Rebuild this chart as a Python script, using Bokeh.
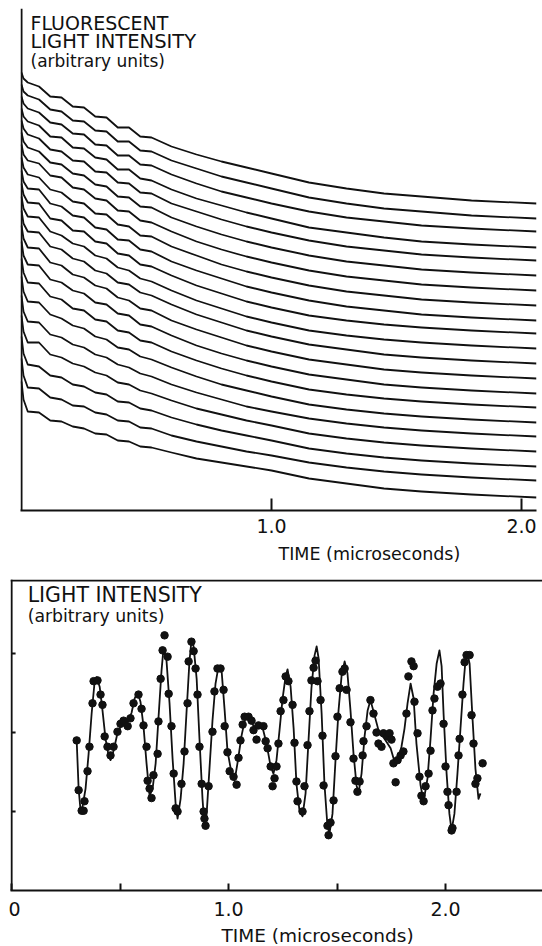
from bokeh.plotting import figure
from bokeh.models import Span, Label, Title, FixedTicker, Range1d
from bokeh.embed import file_html
from bokeh.resources import INLINE

FONT = "DejaVu Sans"
INK = "#111111"

# ---------------- Upper panel: fluorescent decay curves ----------------
decay_time = [0.0, 0.008, 0.025, 0.07, 0.115, 0.16, 0.205, 0.25, 0.295, 0.34, 0.385,
              0.43, 0.475, 0.52, 0.6, 0.7, 0.8, 0.9, 1.0, 1.15, 1.3, 1.45, 1.6, 1.8, 2.06]

decay_01 = [438, 432, 428, 424, 414, 413, 404, 403, 394, 393, 383, 383, 374, 373, 364, 356, 349, 343, 337, 328, 322, 317, 314, 310, 307]
decay_02 = [426, 419, 415, 411, 401, 399, 390, 389, 380, 379, 369, 369, 360, 359, 350, 342, 334, 328, 322, 313, 307, 302, 299, 295, 292]
decay_03 = [414, 407, 402, 398, 388, 386, 377, 376, 366, 365, 355, 355, 346, 345, 336, 327, 319, 313, 307, 299, 293, 289, 285, 282, 279]
decay_04 = [402, 394, 389, 385, 374, 373, 363, 362, 353, 351, 341, 341, 332, 330, 321, 312, 305, 298, 292, 283, 278, 273, 269, 266, 263]
decay_05 = [390, 382, 376, 372, 361, 359, 350, 349, 339, 338, 328, 327, 318, 317, 307, 299, 291, 284, 278, 270, 264, 260, 256, 253, 250]
decay_06 = [378, 369, 363, 359, 348, 346, 337, 335, 326, 324, 314, 313, 304, 303, 293, 284, 276, 269, 263, 255, 249, 245, 241, 238, 235]
decay_07 = [366, 356, 350, 347, 335, 333, 323, 321, 312, 310, 300, 299, 290, 288, 279, 269, 261, 254, 248, 240, 234, 230, 226, 223, 220]
decay_08 = [353, 343, 336, 333, 321, 318, 309, 307, 297, 296, 286, 284, 275, 274, 264, 255, 246, 239, 233, 225, 219, 215, 211, 208, 205]
decay_09 = [340, 329, 322, 321, 307, 304, 295, 293, 283, 281, 271, 270, 261, 259, 249, 240, 232, 224, 218, 210, 204, 200, 196, 193, 190]
decay_10 = [327, 316, 308, 307, 292, 290, 280, 279, 269, 267, 257, 255, 246, 244, 235, 225, 217, 209, 203, 195, 190, 186, 183, 180, 177]
decay_11 = [314, 302, 294, 293, 279, 275, 267, 264, 255, 252, 243, 240, 232, 229, 220, 210, 202, 194, 188, 180, 175, 171, 168, 165, 162]
decay_12 = [300, 287, 279, 278, 264, 261, 252, 249, 240, 237, 228, 226, 218, 215, 206, 196, 188, 180, 174, 166, 161, 156, 153, 150, 147]
decay_13 = [285, 272, 263, 262, 248, 245, 236, 233, 225, 222, 213, 210, 202, 200, 190, 181, 173, 165, 159, 151, 146, 141, 138, 135, 132]
decay_14 = [269, 255, 246, 245, 231, 228, 220, 217, 208, 206, 197, 195, 186, 184, 175, 165, 157, 150, 144, 136, 131, 126, 123, 120, 117]
decay_15 = [252, 238, 228, 227, 214, 211, 202, 200, 191, 189, 180, 178, 170, 168, 159, 150, 142, 135, 129, 121, 116, 112, 109, 106, 103]
decay_16 = [234, 219, 209, 208, 196, 192, 185, 182, 174, 171, 163, 161, 154, 151, 143, 134, 126, 120, 114, 106, 101, 97, 94, 91, 88]
decay_17 = [215, 199, 189, 188, 176, 173, 166, 163, 156, 153, 146, 143, 137, 134, 126, 118, 111, 104, 99, 92, 87, 83, 80, 77, 74]
decay_18 = [195, 179, 168, 168, 156, 153, 147, 144, 138, 135, 128, 126, 120, 117, 110, 102, 96, 90, 85, 77, 72, 68, 65, 62, 59]
decay_19 = [174, 157, 146, 144, 135, 133, 126, 124, 118, 116, 109, 108, 102, 100, 93, 86, 80, 75, 70, 62, 57, 53, 50, 47, 44]
decay_20 = [152, 135, 123, 122, 113, 111, 105, 104, 98, 96, 90, 89, 83, 82, 75, 69, 64, 59, 55, 48, 43, 39, 36, 33, 30]
decay_21 = [129, 111, 99, 98, 90, 89, 84, 82, 77, 76, 70, 69, 64, 63, 58, 52, 48, 44, 40, 32, 27, 22, 19, 16, 13]

decay_curves = [decay_01, decay_02, decay_03, decay_04, decay_05, decay_06, decay_07,
                decay_08, decay_09, decay_10, decay_11, decay_12, decay_13, decay_14,
                decay_15, decay_16, decay_17, decay_18, decay_19, decay_20, decay_21]

top_ticks = [1, 2]
top_tick_labels = {1: "1.0", 2: "2.0"}

# ---------------- Lower panel: quantum beats ----------------
beat_dot_t = [
    0.300, 0.309, 0.323, 0.332, 0.336, 0.350, 0.359, 0.373, 0.378, 0.396,
    0.410, 0.419, 0.429, 0.442, 0.456, 0.470, 0.488, 0.502, 0.516, 0.535,
    0.548, 0.562, 0.585, 0.599, 0.608, 0.622, 0.627, 0.636, 0.645, 0.654,
    0.673, 0.677, 0.687, 0.696, 0.705, 0.719, 0.724, 0.737, 0.747, 0.756,
    0.765, 0.783, 0.797, 0.811, 0.816, 0.829, 0.839, 0.848, 0.857, 0.866,
    0.876, 0.885, 0.889, 0.894, 0.908, 0.926, 0.935, 0.949, 0.963, 0.977,
    0.982, 0.995, 1.005, 1.023, 1.037, 1.046, 1.055, 1.065, 1.074, 1.092,
    1.106, 1.115, 1.129, 1.138, 1.161, 1.171, 1.180, 1.194, 1.203, 1.212,
    1.221, 1.230, 1.240, 1.253, 1.263, 1.276, 1.295, 1.304, 1.313, 1.318,
    1.341, 1.350, 1.364, 1.373, 1.382, 1.392, 1.401, 1.410, 1.424, 1.433,
    1.438, 1.456, 1.461, 1.470, 1.484, 1.493, 1.502, 1.512, 1.525, 1.535,
    1.544, 1.562, 1.576, 1.585, 1.594, 1.604, 1.618, 1.622, 1.636, 1.654,
    1.668, 1.682, 1.691, 1.705, 1.714, 1.733, 1.742, 1.751, 1.760, 1.770,
    1.779, 1.793, 1.806, 1.820, 1.829, 1.843, 1.853, 1.857, 1.871, 1.880,
    1.889, 1.899, 1.908, 1.922, 1.931, 1.940, 1.949, 1.963, 1.977, 1.991,
    2.000, 2.009, 2.014, 2.028, 2.032, 2.051, 2.060, 2.065, 2.078, 2.088,
    2.097, 2.111, 2.120, 2.129, 2.138, 2.147, 2.171]
beat_dot_y = [
    1.90, 1.27, 1.01, 1.01, 1.13, 1.51, 1.82, 2.37, 2.65, 2.66,
    2.48, 2.35, 1.95, 1.82, 1.71, 1.82, 2.01, 2.11, 2.15, 2.08,
    2.18, 2.37, 2.48, 2.30, 2.09, 1.82, 1.39, 1.29, 1.17, 1.46,
    1.73, 2.14, 2.68, 3.04, 3.23, 2.96, 2.49, 2.08, 1.48, 1.04,
    1.00, 1.35, 1.76, 2.37, 2.90, 3.15, 3.03, 2.81, 2.48, 1.82,
    1.35, 1.00, 0.91, 0.82, 1.32, 2.01, 2.52, 2.81, 2.81, 2.54,
    2.08, 1.75, 1.51, 1.44, 1.34, 1.68, 1.90, 2.10, 2.20, 2.20,
    2.15, 2.03, 1.91, 2.09, 2.08, 1.89, 1.80, 1.57, 1.32, 1.42,
    1.57, 1.86, 2.27, 2.41, 2.71, 2.65, 2.35, 1.87, 1.38, 1.13,
    1.00, 1.32, 1.84, 2.27, 2.66, 2.82, 2.91, 2.65, 2.41, 1.96,
    1.33, 0.82, 0.70, 0.86, 1.14, 1.70, 2.20, 2.56, 2.77, 2.81,
    2.54, 2.13, 1.67, 1.39, 1.25, 1.38, 1.71, 1.89, 2.08, 2.41,
    2.24, 2.00, 1.86, 1.82, 1.99, 1.95, 1.99, 1.91, 1.61, 1.37,
    1.65, 1.71, 1.76, 2.24, 2.71, 2.90, 2.84, 2.39, 1.99, 1.44,
    1.20, 1.13, 1.32, 1.48, 1.77, 2.28, 2.43, 2.58, 2.62, 2.11,
    1.57, 1.25, 1.08, 0.76, 0.79, 1.25, 1.71, 1.92, 2.48, 2.89,
    2.98, 2.98, 2.22, 1.86, 1.35, 1.42, 1.61]

beat_fit_t = [
    0.300, 0.309, 0.318, 0.327, 0.341, 0.355, 0.369, 0.382, 0.392, 0.406,
    0.419, 0.433, 0.447, 0.456, 0.470, 0.488, 0.512, 0.535, 0.553, 0.567,
    0.581, 0.594, 0.608, 0.622, 0.636, 0.650, 0.664, 0.677, 0.691, 0.700,
    0.714, 0.728, 0.742, 0.756, 0.765, 0.779, 0.793, 0.806, 0.820, 0.829,
    0.839, 0.853, 0.866, 0.880, 0.889, 0.899, 0.912, 0.926, 0.940, 0.954,
    0.968, 0.982, 0.995, 1.014, 1.028, 1.041, 1.060, 1.078, 1.097, 1.115,
    1.138, 1.157, 1.175, 1.194, 1.207, 1.221, 1.235, 1.249, 1.263, 1.272,
    1.286, 1.300, 1.313, 1.327, 1.341, 1.355, 1.369, 1.382, 1.396, 1.406,
    1.415, 1.429, 1.442, 1.456, 1.465, 1.479, 1.493, 1.507, 1.521, 1.535,
    1.548, 1.562, 1.576, 1.590, 1.599, 1.613, 1.627, 1.641, 1.654, 1.668,
    1.691, 1.724, 1.747, 1.765, 1.779, 1.797, 1.811, 1.825, 1.839, 1.853,
    1.866, 1.885, 1.899, 1.917, 1.931, 1.945, 1.959, 1.972, 1.982, 1.991,
    2.005, 2.018, 2.028, 2.041, 2.055, 2.069, 2.083, 2.092, 2.101, 2.111,
    2.124, 2.138, 2.152, 2.161]
beat_fit_y = [
    1.90, 1.29, 1.01, 1.06, 1.29, 1.73, 2.24, 2.62, 2.70, 2.58,
    2.28, 1.92, 1.71, 1.65, 1.77, 1.99, 2.13, 2.13, 2.25, 2.43,
    2.51, 2.39, 2.08, 1.61, 1.20, 1.29, 1.61, 2.18, 2.78, 3.06,
    2.91, 2.37, 1.67, 1.10, 0.91, 1.16, 1.61, 2.24, 2.91, 3.16,
    3.09, 2.68, 1.92, 1.16, 0.81, 0.97, 1.54, 2.15, 2.62, 2.84,
    2.78, 2.28, 1.77, 1.48, 1.39, 1.61, 1.96, 2.20, 2.20, 2.08,
    2.09, 2.06, 1.86, 1.57, 1.48, 1.65, 2.03, 2.43, 2.71, 2.80,
    2.58, 2.05, 1.35, 1.01, 0.94, 1.23, 1.92, 2.56, 2.97, 3.09,
    2.94, 2.24, 1.35, 0.81, 0.72, 0.97, 1.65, 2.28, 2.72, 2.90,
    2.75, 2.28, 1.73, 1.33, 1.23, 1.48, 1.95, 2.28, 2.41, 2.27,
    2.03, 1.90, 1.80, 1.63, 1.62, 1.82, 2.05, 2.37, 2.62, 2.43,
    1.86, 1.33, 1.13, 1.42, 1.92, 2.49, 2.87, 3.04, 2.84, 2.24,
    1.48, 0.97, 0.76, 0.97, 1.48, 2.05, 2.62, 2.91, 3.00, 2.87,
    2.20, 1.54, 1.16, 1.23]

bottom_ticks = [0, 0.5, 1, 1.5, 2]
bottom_tick_labels = {0: "\u00a00", 0.5: "", 1: "1.0", 1.5: "", 2: "2.0"}
bottom_y_ticks = [1, 2, 3]


def style_common(p):
    p.xgrid.visible = False
    p.ygrid.visible = False
    p.outline_line_color = None
    p.background_fill_color = "white"
    p.border_fill_color = "white"
    ax = p.xaxis[0]
    ax.axis_line_width = 2
    ax.axis_line_color = INK
    ax.major_tick_line_width = 2
    ax.major_tick_line_color = INK
    ax.major_tick_out = 0
    ax.minor_tick_line_color = None
    ax.major_label_text_font = FONT
    ax.major_label_text_color = INK
    ax.major_label_text_font_style = "normal"


# ---- top figure
p1 = figure(frame_width=516, frame_height=502,
            x_range=Range1d(-0.004, 2.06), y_range=Range1d(0, 502),
            y_axis_location=None, output_backend="svg", toolbar_location=None,
            min_border_left=20, min_border_right=6, min_border_top=8, min_border_bottom=0)
style_common(p1)
p1.xaxis.ticker = FixedTicker(ticks=top_ticks)
p1.xaxis.major_label_overrides = top_tick_labels
p1.xaxis.major_tick_in = 12
p1.xaxis.major_label_standoff = 8
p1.xaxis.major_label_text_font_size = "19px"

p1.multi_line(xs=[decay_time] * len(decay_curves), ys=decay_curves,
              line_color=INK, line_width=1.8, line_join="round")
p1.add_layout(Span(location=0, dimension="height", line_color=INK, line_width=2))

for txt, yy, fs in [("FLUORESCENT", 488, "19px"), ("LIGHT INTENSITY", 469, "19.5px"),
                    ("(arbitrary units)", 450, "17px")]:
    p1.add_layout(Label(x=0.036, y=yy, text=txt, text_font=FONT, text_font_size=fs,
                        text_color=INK, text_baseline="alphabetic"))

p1.add_layout(Title(text="TIME (microseconds)", align="left", offset=258,
                    text_font=FONT, text_font_size="17.5px", text_font_style="normal",
                    text_color=INK, standoff=12), "below")

# ---- bottom figure
p2 = figure(frame_width=532, frame_height=311,
            x_range=Range1d(-0.005, 2.447), y_range=Range1d(0, 3.937),
            y_axis_location=None, output_backend="svg", toolbar_location=None,
            min_border_left=10, min_border_right=0, min_border_top=10, min_border_bottom=0)
style_common(p2)
p2.xaxis.ticker = FixedTicker(ticks=bottom_ticks)
p2.xaxis.major_label_overrides = bottom_tick_labels
p2.xaxis.major_tick_in = 7
p2.xaxis.major_label_standoff = 7
p2.xaxis.major_label_text_font_size = "19px"

p2.add_layout(Span(location=0, dimension="height", line_color=INK, line_width=2))
p2.add_layout(Span(location=3.924, dimension="width", line_color=INK, line_width=2))

tick_len = 4.0 / 217.0
p2.segment(x0=[0.0] * len(bottom_y_ticks), y0=bottom_y_ticks,
           x1=[tick_len] * len(bottom_y_ticks), y1=bottom_y_ticks,
           line_color=INK, line_width=2)

p2.line(beat_fit_t, beat_fit_y, line_color=INK, line_width=1.8, line_join="round")
p2.scatter(beat_dot_t, beat_dot_y, size=7.5, marker="circle",
           fill_color=INK, line_color=INK)

p2.add_layout(Label(x=0.074, y=3.735, text="LIGHT INTENSITY", text_font=FONT,
                    text_font_size="20.5px", text_color=INK, text_baseline="alphabetic"))
p2.add_layout(Label(x=0.074, y=3.47, text="(arbitrary units)", text_font=FONT,
                    text_font_size="17.3px", text_color=INK, text_baseline="alphabetic"))

p2.add_layout(Title(text="TIME (microseconds)", align="left", offset=211,
                    text_font=FONT, text_font_size="18.5px", text_font_style="normal",
                    text_color=INK, standoff=0), "below")

open("out.html", "w").write(file_html([p1, p2], INLINE))
